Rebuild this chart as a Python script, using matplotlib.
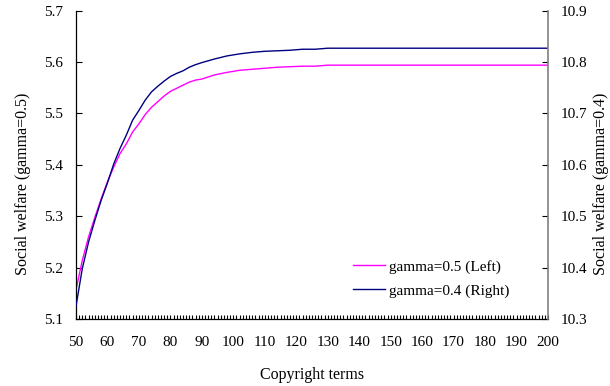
import matplotlib
matplotlib.use("Agg")
import matplotlib.pyplot as plt

plt.rcParams['font.family'] = ['Liberation Serif', 'DejaVu Serif']

terms = [50, 52, 54, 56, 58, 60, 62, 64, 66, 68, 70, 72, 74, 76, 78, 80, 82, 84, 86, 88,
         90, 94, 98, 102, 106, 110, 114, 118, 122, 126, 130, 140, 150, 160, 170, 180, 190, 200]

welfare_g05 = [5.157, 5.214, 5.260, 5.298, 5.334, 5.367, 5.396, 5.422, 5.441, 5.464,
               5.480, 5.498, 5.512, 5.523, 5.534, 5.543, 5.549, 5.555, 5.561, 5.565,
               5.567, 5.575, 5.580, 5.584, 5.586, 5.588, 5.590, 5.591, 5.592, 5.592,
               5.594, 5.594, 5.594, 5.594, 5.594, 5.594, 5.594, 5.594]

welfare_g04 = [10.325, 10.398, 10.450, 10.492, 10.531, 10.565, 10.602, 10.632, 10.658, 10.687,
               10.706, 10.726, 10.742, 10.753, 10.763, 10.772, 10.778, 10.783, 10.790, 10.795,
               10.799, 10.806, 10.812, 10.816, 10.819, 10.821, 10.822, 10.823, 10.825, 10.825,
               10.827, 10.827, 10.827, 10.827, 10.827, 10.827, 10.827, 10.827]

left_ticks = [5.1, 5.2, 5.3, 5.4, 5.5, 5.6, 5.7]
right_ticks = [10.3, 10.4, 10.5, 10.6, 10.7, 10.8, 10.9]
x_label_ticks = list(range(50, 201, 10))

fig = plt.figure(figsize=(6.1, 3.86), dpi=100)
ax = fig.add_axes([76/610, 1-319/386, (548-76)/610, (319-10.7)/386])
ax2 = ax.twinx()

l1, = ax.plot(terms, welfare_g05, color='#FF00FF', lw=1.0, label='gamma=0.5 (Left)')
l2, = ax2.plot(terms, welfare_g04, color='#000080', lw=1.0, label='gamma=0.4 (Right)')

ax.set_xlim(50, 200)
ax.set_ylim(5.1, 5.7)
ax2.set_ylim(10.3, 10.9)

ax.set_yticks(left_ticks)
ax.set_yticklabels([f"{v:.1f}" for v in left_ticks])
ax2.set_yticks(right_ticks)
ax2.set_yticklabels([f"{v:.1f}" for v in right_ticks])

cats = list(range(50, 201))
ax.set_xticks(cats)
ax.set_xticklabels([str(c) if c in x_label_ticks else '' for c in cats])

ax.tick_params(axis='x', direction='in', length=3, width=0.8, pad=12.5, labelsize=11)
ax.tick_params(axis='y', direction='in', length=4, width=0.8, pad=9, labelsize=11)
ax2.tick_params(axis='y', direction='in', length=4, width=0.8, pad=9, labelsize=11)

for a in (ax, ax2):
    a.spines['top'].set_visible(False)
ax.spines['right'].set_visible(False)
ax2.spines['left'].set_visible(False)
ax2.spines['bottom'].set_visible(False)
ax2.spines['right'].set_color('#808080')
ax2.spines['right'].set_linewidth(1.2)
ax.spines['left'].set_linewidth(0.9)
ax.spines['bottom'].set_linewidth(0.9)

ax.set_xlabel('Copyright terms', fontsize=11.5, labelpad=13)
ax.set_ylabel('Social welfare (gamma=0.5)', fontsize=11.5, labelpad=10, y=0.44)
ax2.set_ylabel('Social welfare (gamma=0.4)', fontsize=11.5, labelpad=4, y=0.44)

leg = ax2.legend(handles=[l1, l2], frameon=False, fontsize=11,
                 loc='center left', bbox_to_anchor=(352.7/610, 1-278.7/386),
                 bbox_transform=fig.transFigure, handlelength=2.1,
                 handletextpad=0.26, labelspacing=0.65,
                 borderpad=0, borderaxespad=0)

fig.savefig('out.png', dpi=100)
